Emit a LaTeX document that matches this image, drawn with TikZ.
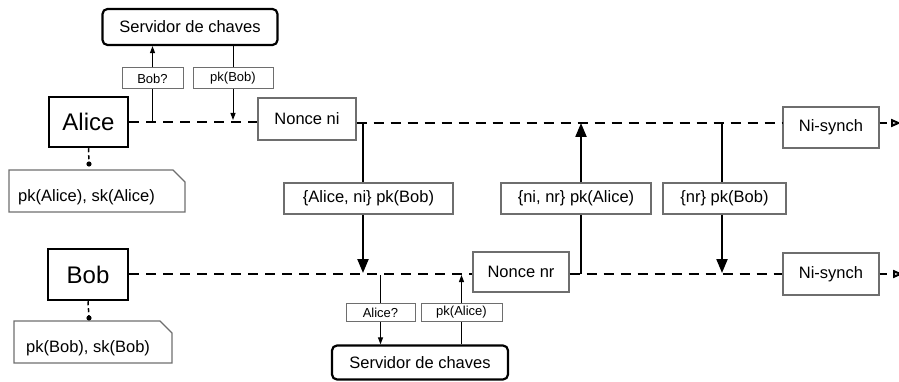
\documentclass[tikz,border=0pt]{standalone}
\usepackage{fontspec}
\setmainfont{Liberation Sans}
\usetikzlibrary{arrows.meta}
\definecolor{boxgray}{HTML}{6E6E6E}
\begin{document}
\begin{tikzpicture}[x=1pt,y=-1pt,
  actor/.style={draw,line width=2.5pt,inner sep=0pt,font=\fontsize{24}{28}\selectfont},
  server/.style={draw,line width=2.2pt,rounded corners=5pt,inner sep=0pt,font=\fontsize{16.5}{19}\selectfont},
  msgbox/.style={draw=boxgray,line width=1.2pt,fill=white,inner sep=0pt,font=\fontsize{16.5}{19}\selectfont},
  smallbox/.style={draw=boxgray,line width=1pt,fill=white,inner sep=0pt,font=\fontsize{13}{15}\selectfont},
  notetext/.style={anchor=west,inner sep=0pt,font=\fontsize{16.5}{19}\selectfont},
  lifeline/.style={line width=2.2pt,dash pattern=on 10pt off 7pt},
  endline/.style={line width=2.2pt,dash pattern=on 7pt off 20pt},
  msgarrow/.style={line width=2.2pt},
  thinarrow/.style={line width=1pt},
  bigtip/.style={-{Triangle[length=14pt,width=11pt]}},
  smalltip/.style={-{Triangle[length=7pt,width=5pt]}},
  endtip/.style={-{Triangle[open,length=10pt,width=8pt,line width=2pt]}},
  notelink/.style={line width=1.5pt,dash pattern=on 4pt off 3pt}
]
\useasboundingbox (0,0) rectangle (899,382);

% actors
\node[actor,minimum width=79pt,minimum height=50pt] (alice) at (88.5,122) {Alice};
\node[actor,minimum width=80pt,minimum height=51pt] (bob) at (88,274.5) {Bob};

% servers
\node[server,minimum width=175pt,minimum height=36pt] (srvA) at (190,27) {Servidor de chaves};
\node[server,minimum width=176pt,minimum height=34pt] (srvB) at (420,362.5) {Servidor de chaves};

% small labels
\node[smallbox,minimum width=61pt,minimum height=21pt] (bobq) at (152.5,78.5) {Bob?};
\node[smallbox,minimum width=80pt,minimum height=21pt] (pkbob) at (233,78.5) {pk(Bob)};
\node[smallbox,minimum width=69pt,minimum height=18pt] (aliceq) at (380.5,312.5) {Alice?};
\node[smallbox,minimum width=81pt,minimum height=18pt] (pkalice) at (461.5,312.5) {pk(Alice)};

% nonce boxes
\node[msgbox,minimum width=98pt,minimum height=42pt] (nni) at (307,119) {Nonce ni};
\node[msgbox,minimum width=96pt,minimum height=40pt] (nnr) at (521,272) {Nonce nr};

% ni-synch boxes
\node[msgbox,minimum width=96pt,minimum height=41pt] (nisA) at (831,127.5) {Ni-synch};
\node[msgbox,minimum width=96pt,minimum height=42pt] (nisB) at (831,274) {Ni-synch};

% message labels
\node[msgbox,minimum width=169pt,minimum height=31pt] (lab1) at (368.5,198.5) {\{Alice, ni\} pk(Bob)};
\node[msgbox,minimum width=150pt,minimum height=31pt] (lab2) at (576,198.5) {\{ni, nr\} pk(Alice)};
\node[msgbox,minimum width=123pt,minimum height=31pt] (lab3) at (724.5,198.5) {\{nr\} pk(Bob)};

% notes
\draw[draw=boxgray,line width=1.2pt] (9,170) -- (173,170) -- (185,182) -- (185,212) -- (9,212) -- cycle;
\node[notetext] (noteA) at (18,197) {pk(Alice), sk(Alice)};
\draw[draw=boxgray,line width=1.2pt] (14,321) -- (160,321) -- (172,333) -- (172,363) -- (14,363) -- cycle;
\node[notetext] (noteB) at (26,348) {pk(Bob), sk(Bob)};

% note links
\coordinate (dotA) at (89,164);
\coordinate (dotB) at (89,318);
\draw[notelink] (alice.south) -- (dotA);
\fill (dotA) circle (2.6pt);
\draw[notelink] (bob.south) -- (dotB);
\fill (dotB) circle (2.6pt);

% lifelines
\coordinate (endA) at (901,123);
\coordinate (endB) at (903,274);
\draw[lifeline] (alice.east) -- (alice.east -| nni.west);
\draw[lifeline] (nni.east |- 0,123) -- (nisA.west |- 0,123);
\draw[endline,endtip] (nisA.east |- endA) -- (endA);
\draw[lifeline] (bob.east |- 0,274) -- (nnr.west |- 0,274);
\draw[lifeline] (nnr.east |- 0,274) -- (nisB.west |- 0,274);
\draw[endline,endtip] (nisB.east |- endB) -- (endB);

% key-server requests (top)
\coordinate (bq) at (152.5,122);
\coordinate (pb) at (233,120);
\draw[thinarrow] (bq) -- (bobq.south);
\draw[thinarrow,smalltip] (bobq.north) -- (bobq.north |- srvA.south);
\draw[thinarrow] (pkbob.north |- srvA.south) -- (pkbob.north);
\draw[thinarrow,smalltip] (pkbob.south) -- (pb);

% key-server requests (bottom)
\coordinate (aq) at (380.5,275);
\coordinate (pa) at (461.5,275);
\draw[thinarrow] (aq) -- (aliceq.north);
\draw[thinarrow,smalltip] (aliceq.south) -- (aliceq.south |- srvB.north);
\draw[thinarrow] (pkalice.south |- srvB.north) -- (pkalice.south);
\draw[thinarrow,smalltip] (pkalice.north) -- (pa);

% protocol messages
\coordinate (m1t) at (363,123);
\coordinate (m1b) at (363,273);
\draw[msgarrow] (m1t) -- (m1t |- lab1.north);
\draw[msgarrow,bigtip] (m1t |- lab1.south) -- (m1b);

\coordinate (m2b) at (581,274);
\coordinate (m2t) at (581,123);
\draw[msgarrow] (m2b) -- (m2b |- lab2.south);
\draw[msgarrow,bigtip] (m2b |- lab2.north) -- (m2t);

\coordinate (m3t) at (722,123);
\coordinate (m3b) at (722,273);
\draw[msgarrow] (m3t) -- (m3t |- lab3.north);
\draw[msgarrow,bigtip] (m3t |- lab3.south) -- (m3b);
\end{tikzpicture}
\end{document}
